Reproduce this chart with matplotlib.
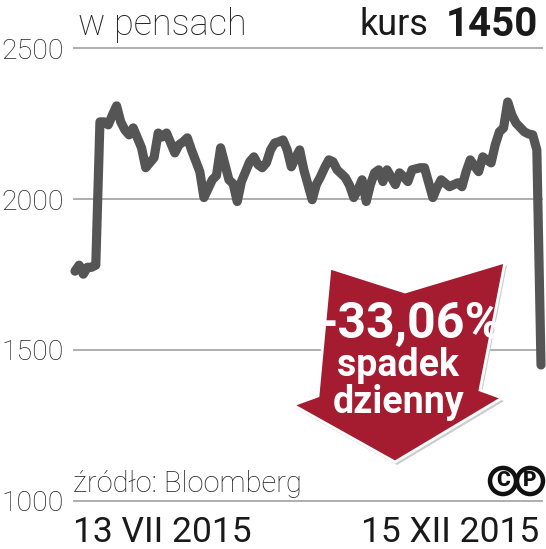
import matplotlib
matplotlib.use("Agg")
import matplotlib.pyplot as plt
from matplotlib import font_manager
from matplotlib.patches import Polygon, Circle

# trading-day index (13 VII 2015 -> 15 XII 2015) and price in pence
days = [0, 1, 2, 3, 4, 5, 6, 7, 8, 9, 10, 11, 12, 13, 14, 16, 17, 19, 20, 21,
        22, 24, 25, 26, 27, 28, 30, 31, 33, 34, 35, 37, 38, 39, 40, 42, 43, 44,
        45, 46, 47, 48, 49, 50, 51, 52, 53, 54, 55, 57, 58, 59, 60, 61, 62, 63,
        65, 66, 67, 68, 69, 70, 71, 72, 73, 74, 75, 77, 78, 79, 80, 81, 83, 84,
        86, 87, 88, 90, 92, 93, 94, 95, 97, 98, 100, 101, 102, 103, 104, 105,
        106, 108, 109, 110, 111, 112]
price = [1761, 1781, 1751, 1774, 1774, 1781, 2256, 2256, 2246, 2279, 2309, 2256,
         2229, 2213, 2236, 2170, 2104, 2137, 2219, 2206, 2219, 2153, 2180, 2190,
         2203, 2163, 2091, 2005, 2064, 2078, 2170, 2064, 2051, 1992, 2058, 2124,
         2140, 2114, 2104, 2120, 2163, 2186, 2190, 2196, 2163, 2107, 2137, 2163,
         2097, 1998, 2048, 2074, 2104, 2130, 2124, 2097, 2071, 2045, 2005, 2031,
         2064, 1992, 2048, 2087, 2097, 2058, 2097, 2048, 2087, 2074, 2058, 2097,
         2104, 2104, 2005, 2038, 2064, 2041, 2054, 2041, 2091, 2130, 2091, 2140,
         2120, 2180, 2223, 2236, 2322, 2279, 2252, 2223, 2216, 2213, 2163, 1450]

y_ticks = [2500, 2000, 1500, 1000]
date_labels = ["13 VII 2015", "15 XII 2015"]

W, H = 546, 549
names = {f.name for f in font_manager.fontManager.ttflist}
narrow = "Liberation Sans Narrow" if "Liberation Sans Narrow" in names else "Roboto"


def fx(x):
    return x / W


def fy(y):
    return 1 - y / H


fig = plt.figure(figsize=(W / 100, H / 100), dpi=100)
ax = fig.add_axes([0, 0, 1, 1])
ax.axis("off")
ax.set_xlim(-18.02, 113.2)
ax.set_ylim(840, 2660)

ax.hlines(y_ticks, -0.48, 112.5, color="#a8a8a8", lw=1.3, zorder=1)
ax.plot(days, price, color="#555555", lw=6.6, solid_joinstyle="round",
        solid_capstyle="round", zorder=3)

for v in y_ticks:
    ax.text(-2.7, v - 10, str(v), ha="right", va="center", fontsize=20.5,
            family="Roboto", weight="light", color="#222222")

fig.text(fx(78), fy(35), "w pensach", fontsize=26, family="Roboto",
         weight="light", color="#222222", va="baseline")
fig.text(fx(360), fy(35), "kurs", fontsize=26, family="Roboto",
         color="#1a1a1a", va="baseline")
fig.text(fx(538), fy(36), "1450", fontsize=29, family=narrow, weight="bold",
         color="#1a1a1a", ha="right", va="baseline")

fig.text(fx(73), fy(492), "źródło: Bloomberg", fontsize=21, family="Roboto",
         weight="light", color="#222222", va="baseline")
fig.text(fx(73), fy(542), date_labels[0], fontsize=25.5, family="Roboto",
         color="#1a1a1a", va="baseline")
fig.text(fx(539), fy(542), date_labels[1], fontsize=25.5, family="Roboto",
         color="#1a1a1a", ha="right", va="baseline")

# (c)(p) marks
for cx, letter in [(503, "C"), (530, "P")]:
    fig.patches.append(Circle((fx(cx), fy(481)), 13 / W, transform=fig.transFigure,
                              fill=False, lw=3.2, ec="#111111"))
    fig.text(fx(cx), fy(481), letter, fontsize=15, family="Roboto", weight="black",
             ha="center", va="center", color="#111111")

# red arrow
pts = [(330, 268), (405, 292), (505, 262), (480, 390), (502, 398), (395, 462),
       (293, 405), (318, 396)]
shadow = Polygon([(fx(x + 2), fy(y + 3)) for x, y in pts], closed=True,
                 transform=fig.transFigure, fc="#cccccc", ec="none", zorder=4)
arrow = Polygon([(fx(x), fy(y)) for x, y in pts], closed=True,
                transform=fig.transFigure, fc="#a51c30", ec="white", lw=2,
                zorder=5)
fig.patches.append(shadow)
fig.patches.append(arrow)

fig.text(fx(410), fy(338), "-33,06%", fontsize=36, family=narrow, weight="bold",
         color="white", ha="center", va="baseline", zorder=6)
fig.text(fx(398), fy(376), "spadek", fontsize=27, family=narrow, weight="bold",
         color="white", ha="center", va="baseline", zorder=6)
fig.text(fx(399), fy(413), "dzienny", fontsize=27, family=narrow, weight="bold",
         color="white", ha="center", va="baseline", zorder=6)

fig.savefig("out.png", dpi=100)
